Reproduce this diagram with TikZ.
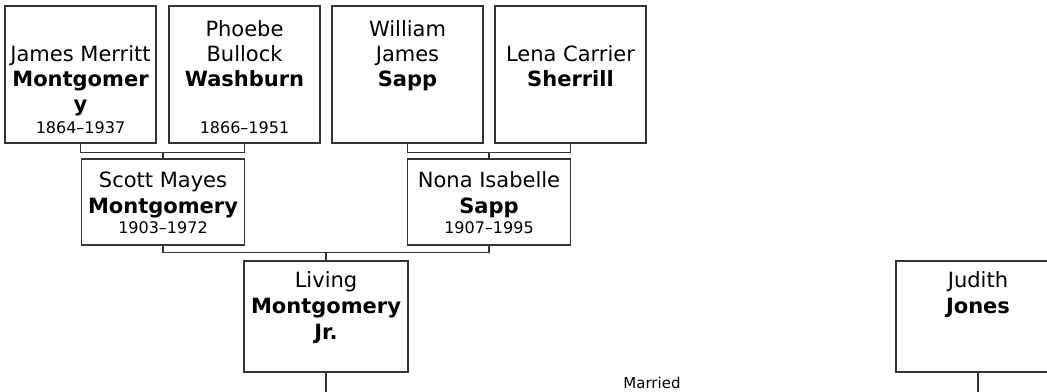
\documentclass[tikz,border=0pt]{standalone}
\usepackage{fontspec}
\setmainfont{DejaVu Sans}
\usetikzlibrary{calc}

\begin{document}
\begin{tikzpicture}[
  x=0.75pt, y=-0.75pt,
  line cap=butt, line join=miter,
  person/.style={draw=black!80, line width=1pt, inner sep=0pt},
  gen1/.style={person, minimum width=113.25pt, minimum height=102.75pt},
  gen2/.style={person, minimum width=122.25pt, minimum height=64.5pt},
  gen3/.style={person, minimum width=123pt, minimum height=83.25pt},
  nm/.style={anchor=base, inner sep=0pt, font=\fontsize{15.75}{18}\selectfont},
  yr/.style={anchor=base, inner sep=0pt, font=\fontsize{12}{14}\selectfont},
  link/.style={draw=black!80, line width=0.8pt}
]
\clip (0,0) rectangle (1047,392);

% grandparents
\node[gen1] (p1) at (80.5,74.5) {};
\node[gen1] (p2) at (244.5,74.5) {};
\node[gen1] (p3) at (407.5,74.5) {};
\node[gen1] (p4) at (570.5,74.5) {};

\foreach \t [count=\i] in {James Merritt,\textbf{Montgomer},\textbf{y}}
  \node[nm] (p1-\i) at ($(p1.north)+(0,31+25*\i)$) {\t};
\foreach \t [count=\i] in {Phoebe,Bullock,\textbf{Washburn}}
  \node[nm] (p2-\i) at ($(p2.north)+(0,6+25*\i)$) {\t};
\foreach \t [count=\i] in {William,James,\textbf{Sapp}}
  \node[nm] (p3-\i) at ($(p3.north)+(0,6+25*\i)$) {\t};
\foreach \t [count=\i] in {Lena Carrier,\textbf{Sherrill}}
  \node[nm] (p4-\i) at ($(p4.north)+(0,31+25*\i)$) {\t};
\node[yr] (p1-d) at ($(p1.south)+(0,-10)$) {1864--1937};
\node[yr] (p2-d) at ($(p2.south)+(0,-10)$) {1866--1951};

% parents
\node[gen2] (f) at (163,202) {};
\node[gen2] (m) at (489,202) {};
\foreach \t [count=\i] in {Scott Mayes,\textbf{Montgomery}}
  \node[nm] (f-\i) at ($(f.north)+(0,3+26*\i)$) {\t};
\foreach \t [count=\i] in {Nona Isabelle,\textbf{Sapp}}
  \node[nm] (m-\i) at ($(m.north)+(0,3+26*\i)$) {\t};
\node[yr] (f-d) at ($(f.south)+(0,-12)$) {1903--1972};
\node[yr] (m-d) at ($(m.south)+(0,-12)$) {1907--1995};

% couple
\node[gen3] (c) at (326,316.5) {};
\node[gen3] (s) at (978,316.5) {};
\foreach \t [count=\i] in {Living,\textbf{Montgomery},\textbf{Jr.}}
  \node[nm] (c-\i) at ($(c.north)+(0,1+26*\i)$) {\t};
\foreach \t [count=\i] in {Judith,\textbf{Jones}}
  \node[nm] (s-\i) at ($(s.north)+(0,1+26*\i)$) {\t};

% connectors
\coordinate (j1) at ($(p1.south)+(0,9)$);
\coordinate (j2) at ($(p3.south)+(0,9)$);
\coordinate (j3) at ($(f.south)+(0,7)$);
\coordinate (low) at (0,392);
\draw[link] (p1.south) -- (j1) -| (p2.south);
\draw[link] (f.north) -- (f.north |- j1);
\draw[link] (p3.south) -- (j2) -| (p4.south);
\draw[link] (m.north) -- (m.north |- j2);
\draw[link] (f.south) -- (j3) -| (m.south);
\draw[link] (c.north) -- (c.north |- j3);
\draw[link] (c.south) -- (c.south |- low);
\draw[link] (s.south) -- (s.south |- low);

\node[anchor=base, inner sep=0pt, font=\fontsize{11.25}{13}\selectfont] (wed) at (652,388) {Married};
\end{tikzpicture}
\end{document}
